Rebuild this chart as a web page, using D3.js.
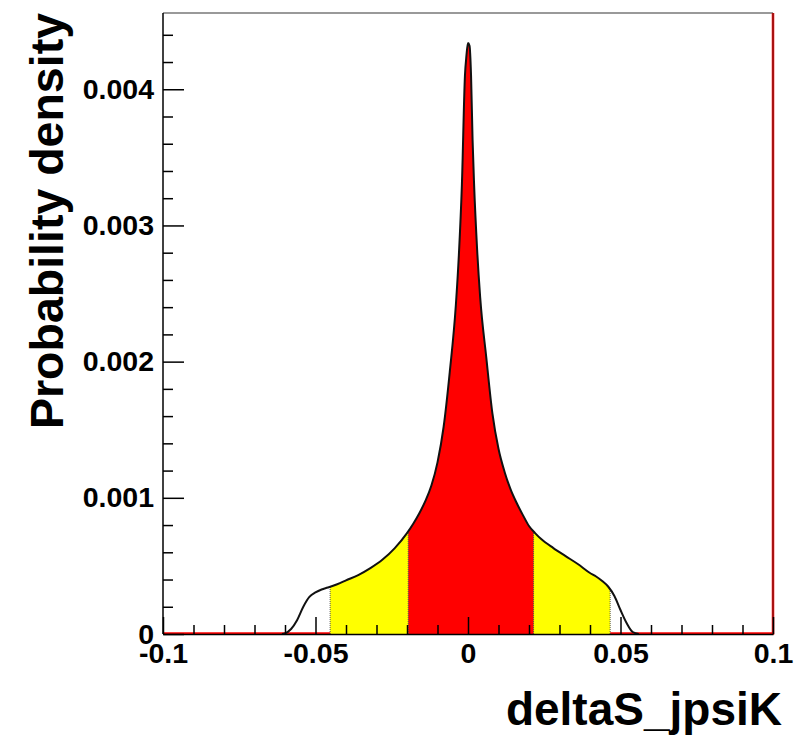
<!DOCTYPE html>
<html>
<head>
<meta charset="utf-8">
<script src="https://cdn.jsdelivr.net/npm/d3@7"></script>
<style>
  html, body { margin: 0; padding: 0; background: #fff; }
  svg { display: block; }
  text { font-family: "Liberation Sans", Arial, Helvetica, sans-serif; font-weight: bold; fill: #000; }
</style>
</head>
<body>
<svg id="chart" width="794" height="738"></svg>
<script>
// Posterior density of deltaS_jpsiK, sampled along the x axis
const deltaS = [-0.061, -0.060, -0.058, -0.056, -0.054, -0.052, -0.050, -0.048, -0.046, -0.044,
  -0.042, -0.040, -0.036, -0.032, -0.028, -0.024, -0.020, -0.018, -0.016, -0.014,
  -0.012, -0.010, -0.008, -0.006, -0.004, -0.003, -0.002, -0.001, -0.0005, 0,
  0.0005, 0.001, 0.0015, 0.002, 0.003, 0.004, 0.006, 0.008, 0.010, 0.012,
  0.014, 0.016, 0.018, 0.020, 0.022, 0.024, 0.028, 0.032, 0.036, 0.040,
  0.042, 0.044, 0.046, 0.048, 0.050, 0.052, 0.054, 0.056];
const density = [0, 0.000005, 0.000037, 0.000103, 0.0002, 0.000272, 0.000305, 0.000327, 0.000341, 0.000356,
  0.000374, 0.000394, 0.000433, 0.000484, 0.000547, 0.000631, 0.000741, 0.000808, 0.000885, 0.000975,
  0.00109, 0.00126, 0.00152, 0.00192, 0.00241, 0.00278, 0.0033, 0.0041, 0.00425, 0.00434,
  0.00432, 0.0041, 0.00363, 0.0033, 0.00282, 0.00247, 0.00203, 0.00162, 0.00136, 0.00119,
  0.00106, 0.00096, 0.000873, 0.000793, 0.000741, 0.000697, 0.000631, 0.000572, 0.000514, 0.000448,
  0.000422, 0.000389, 0.000347, 0.000279, 0.000176, 0.000081, 0.000015, 0];

// Credible intervals: inner (red) and outer (yellow)
const innerInterval = [-0.0196, 0.0215];
const outerInterval = [-0.0452, 0.0466];

// Axis ranges and ticks
const xDomain = [-0.1, 0.1];
const yDomain = [0, 0.00456];
const xMajorTicks = [-0.1, -0.05, 0, 0.05, 0.1];
const xTickLabels = ["-0.1", "-0.05", "0", "0.05", "0.1"];
const xMinorTicks = [-0.09, -0.08, -0.07, -0.06, -0.04, -0.03, -0.02, -0.01, 0.01, 0.02, 0.03, 0.04, 0.06, 0.07, 0.08, 0.09];
const yMajorTicks = [0, 0.001, 0.002, 0.003, 0.004];
const yTickLabels = ["0", "0.001", "0.002", "0.003", "0.004"];
const yMinorTicks = [0.0002, 0.0004, 0.0006, 0.0008, 0.0012, 0.0014, 0.0016, 0.0018, 0.0022, 0.0024, 0.0026, 0.0028,
  0.0032, 0.0034, 0.0036, 0.0038, 0.0042, 0.0044];
const xTitle = "deltaS_jpsiK";
const yTitle = "Probability density";

const frame = { left: 163, right: 773, top: 13, bottom: 634 };
const svg = d3.select("#chart");

const x = d3.scaleLinear().domain(xDomain).range([frame.left, frame.right]);
const y = d3.scaleLinear().domain(yDomain).range([frame.bottom, frame.top]);

const points = deltaS.map((v, i) => [v, density[i]]);

const area = d3.area()
  .x(d => x(d[0]))
  .y0(y(0))
  .y1(d => y(d[1]))
  .curve(d3.curveMonotoneX);
const line = d3.line()
  .x(d => x(d[0]))
  .y(d => y(d[1]))
  .curve(d3.curveMonotoneX);

const defs = svg.append("defs");
function bandClip(id, interval) {
  defs.append("clipPath").attr("id", id)
    .append("rect")
    .attr("x", x(interval[0]))
    .attr("width", x(interval[1]) - x(interval[0]))
    .attr("y", frame.top)
    .attr("height", frame.bottom - frame.top);
}
bandClip("clip-outer", outerInterval);
bandClip("clip-inner", innerInterval);
defs.append("clipPath").attr("id", "clip-area")
  .append("path").attr("d", area(points));

// Frame (top edge grey)
svg.append("line")
  .attr("x1", frame.left).attr("x2", frame.right)
  .attr("y1", frame.top).attr("y2", frame.top)
  .attr("stroke", "#777").attr("stroke-width", 1.5);

// Histogram outline along zero and the right edge
svg.append("path")
  .attr("d", `M${x(xDomain[0])},${y(0) - 0.5}H${x(xDomain[1])}V${y(yDomain[1])}`)
  .attr("fill", "none").attr("stroke", "#ff0000").attr("stroke-width", 2.5);
svg.append("line")
  .attr("x1", x(xDomain[1])).attr("x2", x(xDomain[1]))
  .attr("y1", frame.top).attr("y2", frame.bottom)
  .attr("stroke", "#552222").attr("stroke-width", 1);

// Filled credible intervals
svg.append("path").attr("d", area(points))
  .attr("fill", "#ffff00").attr("clip-path", "url(#clip-outer)");
svg.append("path").attr("d", area(points))
  .attr("fill", "#ff0000").attr("clip-path", "url(#clip-inner)");

// Dotted interval edges
svg.append("g").attr("clip-path", "url(#clip-area)")
  .selectAll("line")
  .data([outerInterval[0], innerInterval[0], innerInterval[1], outerInterval[1]])
  .join("line")
  .attr("x1", d => x(d)).attr("x2", d => x(d))
  .attr("y1", frame.top).attr("y2", frame.bottom)
  .attr("stroke", "#555").attr("stroke-width", 1).attr("stroke-dasharray", "1,1");

// Density curve
svg.append("path").attr("d", line(points))
  .attr("fill", "none").attr("stroke", "#111").attr("stroke-width", 2);

// X axis
const xAxis = svg.append("g").attr("transform", `translate(0,${frame.bottom})`)
  .call(d3.axisBottom(x).tickValues(xMajorTicks).tickSize(-17).tickSizeOuter(0).tickPadding(9)
    .tickFormat((d, i) => xTickLabels[i]));
xAxis.append("g").call(d3.axisBottom(x).tickValues(xMinorTicks).tickSize(-9).tickFormat(""))
  .select(".domain").remove();
xAxis.selectAll("line").attr("stroke", "#000").attr("stroke-width", 1.5);
xAxis.selectAll(".domain").attr("stroke", "#000").attr("stroke-width", 1.5);
xAxis.selectAll("text").attr("font-size", 28.5).attr("font-family", null).attr("fill", "#000");

// Y axis
const yAxis = svg.append("g").attr("transform", `translate(${frame.left},0)`)
  .call(d3.axisLeft(y).tickValues(yMajorTicks).tickSize(-21).tickSizeOuter(0).tickPadding(9)
    .tickFormat((d, i) => yTickLabels[i]));
yAxis.append("g").call(d3.axisLeft(y).tickValues(yMinorTicks).tickSize(-10).tickFormat(""))
  .select(".domain").remove();
yAxis.select(".domain").attr("d", `M0,${frame.bottom}V${frame.top}`);
yAxis.selectAll("line").attr("stroke", "#000").attr("stroke-width", 1.5);
yAxis.selectAll(".domain").attr("stroke", "#000").attr("stroke-width", 1.5);
yAxis.selectAll("text").attr("font-size", 28.5).attr("font-family", null).attr("fill", "#000");

// Axis titles
svg.append("text")
  .attr("x", 782).attr("y", 725)
  .attr("text-anchor", "end")
  .attr("font-size", 46)
  .text(xTitle);
svg.append("text")
  .attr("transform", `translate(63,${frame.top}) rotate(-90)`)
  .attr("text-anchor", "end")
  .attr("font-size", 46.5)
  .text(yTitle);
</script>
</body>
</html>
